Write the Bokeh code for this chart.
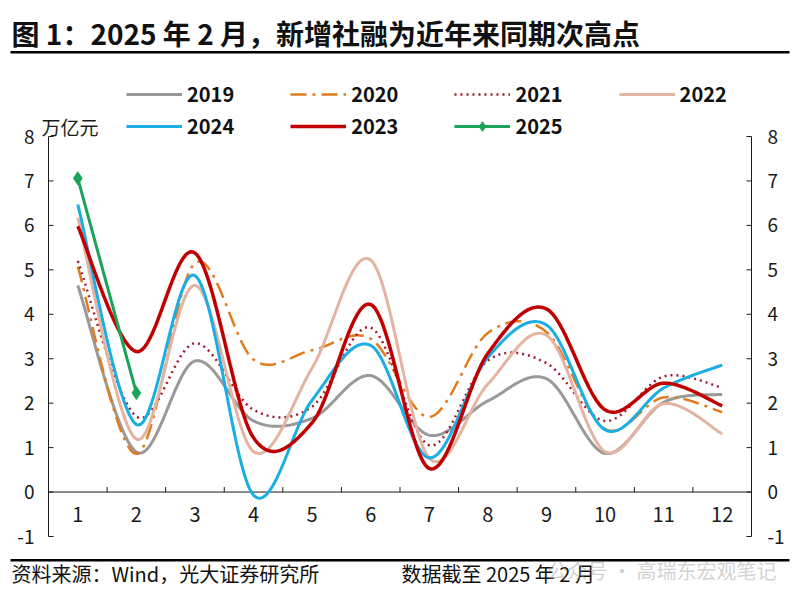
from bokeh.plotting import figure
from bokeh.models import Range1d, Label, BoxAnnotation, Legend, LegendItem
from bokeh.core.properties import value
from bokeh.embed import file_html
from bokeh.resources import INLINE

# ---------------- data ----------------
months = [1, 2, 3, 4, 5, 6, 7, 8, 9, 10, 11, 12]
month_labels = ["1", "2", "3", "4", "5", "6", "7", "8", "9", "10", "11", "12"]
y2019 = [4.65, 0.90, 2.95, 1.60, 1.66, 2.62, 1.28, 2.05, 2.55, 0.87, 2.02, 2.20]
y2020 = [5.07, 0.86, 5.15, 2.98, 3.19, 3.45, 1.69, 3.58, 3.60, 1.42, 2.13, 1.80]
y2021 = [5.20, 1.70, 3.35, 1.85, 1.92, 3.70, 1.05, 2.96, 2.90, 1.60, 2.60, 2.35]
y2022 = [6.17, 1.19, 4.65, 0.91, 2.79, 5.22, 0.76, 2.43, 3.53, 0.91, 1.99, 1.31]
y2023 = [5.98, 3.16, 5.38, 1.22, 1.56, 4.22, 0.53, 3.12, 4.12, 1.85, 2.45, 1.94]
y2024 = [6.47, 1.52, 4.87, -0.07, 2.07, 3.30, 0.77, 3.03, 3.76, 1.40, 2.34, 2.86]
months2025 = [1, 2]
y2025 = [7.06, 2.23]
yticks = [-1, 0, 1, 2, 3, 4, 5, 6, 7, 8]
ytick_labels = ["-1", "0", "1", "2", "3", "4", "5", "6", "7", "8"]

FONT = "Noto Sans CJK SC"
INK = "#1a1a1a"

# ---------------- geometry (page pixels -> data) ----------------
W, H = 790, 592          # canvas size
OX, OY = 1, 1            # where the canvas lands on the page
PX0, PX1 = 49, 752       # page x of x = 0.5 and x = 12.5
PY8, PYM1 = 137, 537     # page y of y = 8 and y = -1
XA, XB, YA, YB = 0.5, 12.5, -1.0, 8.0
SX = (PX1 - PX0) / (XB - XA)
SY = (PYM1 - PY8) / (YB - YA)


def dx(px):
    return XA + (px - PX0) / SX


def dy(py):
    return YB - (py - PY8) / SY


def smooth(xs, ys, n=30):
    """Excel-style smoothed line (cubic Bezier through the points)."""
    pts = list(zip(xs, ys))
    ox, oy = [], []
    m = len(pts)
    for i in range(m - 1):
        p0 = pts[i - 1] if i > 0 else pts[i]
        p1 = pts[i]
        p2 = pts[i + 1]
        p3 = pts[i + 2] if i + 2 < m else pts[i + 1]
        c1 = (p1[0] + (p2[0] - p0[0]) / 6, p1[1] + (p2[1] - p0[1]) / 6)
        c2 = (p2[0] - (p3[0] - p1[0]) / 6, p2[1] - (p3[1] - p1[1]) / 6)
        for k in range(n + (1 if i == m - 2 else 0)):
            t = k / n
            a, b, c, d = (1 - t) ** 3, 3 * t * (1 - t) ** 2, 3 * t * t * (1 - t), t ** 3
            ox.append(a * p1[0] + b * c1[0] + c * c2[0] + d * p2[0])
            oy.append(a * p1[1] + b * c1[1] + c * c2[1] + d * p2[1])
    return ox, oy


p = figure(width=W, height=H,
           x_range=Range1d(dx(OX), dx(OX + W)), y_range=Range1d(dy(OY + H), dy(OY)),
           output_backend="svg", toolbar_location=None, title=None,
           x_axis_type=None, y_axis_type=None, min_border=0)
p.outline_line_color = None
p.grid.visible = False
p.background_fill_color = "white"
p.border_fill_color = "white"

# ---------------- axes (drawn on the data scales) ----------------
tick_dx = 5 / SX
tick_dy = 5 / SY
# spines
p.segment(x0=[XA, XB], y0=[YA, YA], x1=[XA, XB], y1=[YB, YB], line_color=INK, line_width=1)
# zero line (category axis)
p.segment(x0=[XA], y0=[0], x1=[XB], y1=[0], line_color=INK, line_width=1)
# y ticks (pointing inward)
p.segment(x0=[XA] * len(yticks), y0=yticks, x1=[XA + tick_dx] * len(yticks), y1=yticks,
          line_color=INK, line_width=1)
p.segment(x0=[XB - tick_dx] * len(yticks), y0=yticks, x1=[XB] * len(yticks), y1=yticks,
          line_color=INK, line_width=1)
# category boundary ticks
bx = [m + 0.5 for m in months[:-1]]
p.segment(x0=bx, y0=[0] * len(bx), x1=bx, y1=[tick_dy] * len(bx), line_color=INK, line_width=1)
# tick labels
p.text(x=[XA] * len(yticks), y=yticks, text=ytick_labels, x_offset=-14,
       text_align="right", text_baseline="middle", text_font=value(FONT),
       text_font_size=value("19px"), text_color=INK)
p.text(x=[XB] * len(yticks), y=yticks, text=ytick_labels, x_offset=16,
       text_align="left", text_baseline="middle", text_font=value(FONT),
       text_font_size=value("19px"), text_color=INK)
p.text(x=months, y=[0] * len(months), text=month_labels, y_offset=22,
       text_align="center", text_baseline="middle", text_font=value(FONT),
       text_font_size=value("20px"), text_color=INK)

# ---------------- series ----------------
r19 = p.line(*smooth(months, y2019), line_color="#999999", line_width=3)
r20 = p.line(*smooth(months, y2020), line_color="#E07B1E", line_width=2.5,
             line_dash="16 6 3 6")
r21 = p.line(*smooth(months, y2021), line_color="#A31A2E", line_width=2.5,
             line_dash="2 4")
r22 = p.line(*smooth(months, y2022), line_color="#E4B4A2", line_width=3)
r24 = p.line(*smooth(months, y2024), line_color="#1AAEE5", line_width=3)
r23 = p.line(*smooth(months, y2023), line_color="#C00000", line_width=3.5)
r25 = p.line(months2025, y2025, line_color="#1BA35A", line_width=3)
r25m = p.scatter(months2025, y2025, marker="diamond", size=13,
                 fill_color="#1BA35A", line_color="#1BA35A")

# ---------------- legends ----------------
ITEM_H = 24


def make_legend(items, left_px, center_py):
    loc = (left_px - OX, (OY + H) - (center_py + ITEM_H / 2))
    lg = Legend(items=items, location=loc, orientation="horizontal",
                glyph_width=56, glyph_height=ITEM_H, label_standoff=5, spacing=56,
                padding=0, margin=0, border_line_color=None,
                background_fill_alpha=0, label_text_font=FONT,
                label_text_font_style="bold", label_text_font_size="20px",
                label_height=ITEM_H, label_text_color="#111111",
                label_text_baseline="middle")
    p.add_layout(lg, "center")


make_legend([LegendItem(label="2019", renderers=[r19]),
             LegendItem(label="2020", renderers=[r20]),
             LegendItem(label="2021", renderers=[r21]),
             LegendItem(label="2022", renderers=[r22])], 127, 97)
make_legend([LegendItem(label="2024", renderers=[r24]),
             LegendItem(label="2023", renderers=[r23]),
             LegendItem(label="2025", renderers=[r25, r25m])], 127, 129)

# ---------------- texts & rules ----------------
p.add_layout(Label(x=dx(12), y=dy(33), text="图 1：2025 年 2 月，新增社融为近年来同期次高点",
                   text_font=FONT, text_font_size="28px", text_font_style="bold",
                   text_baseline="middle", text_color="#111111"))
p.add_layout(Label(x=dx(42), y=dy(127), text="万亿元", text_font=FONT,
                   text_font_size="19px", text_baseline="middle", text_color=INK))
p.add_layout(Label(x=dx(12), y=dy(574), text="资料来源：Wind，光大证券研究所", text_font=FONT,
                   text_font_size="20px", text_baseline="middle", text_color="#111111"))
p.add_layout(Label(x=dx(402), y=dy(574), text="数据截至 2025 年 2 月", text_font=FONT,
                   text_font_size="20px", text_baseline="middle", text_color="#111111"))
p.add_layout(Label(x=dx(548), y=dy(571), text="公众号 · 高瑞东宏观笔记", text_font=FONT,
                   text_font_size="20px", text_baseline="middle", text_color="#9a9a9a",
                   text_alpha=0.45))

for top, bot in [(51.5, 54), (559.5, 562)]:
    p.add_layout(BoxAnnotation(left=dx(11), right=dx(790), top=dy(top), bottom=dy(bot),
                               fill_color="black", fill_alpha=1, line_color=None))

open("out.html", "w").write(file_html(p, INLINE))
